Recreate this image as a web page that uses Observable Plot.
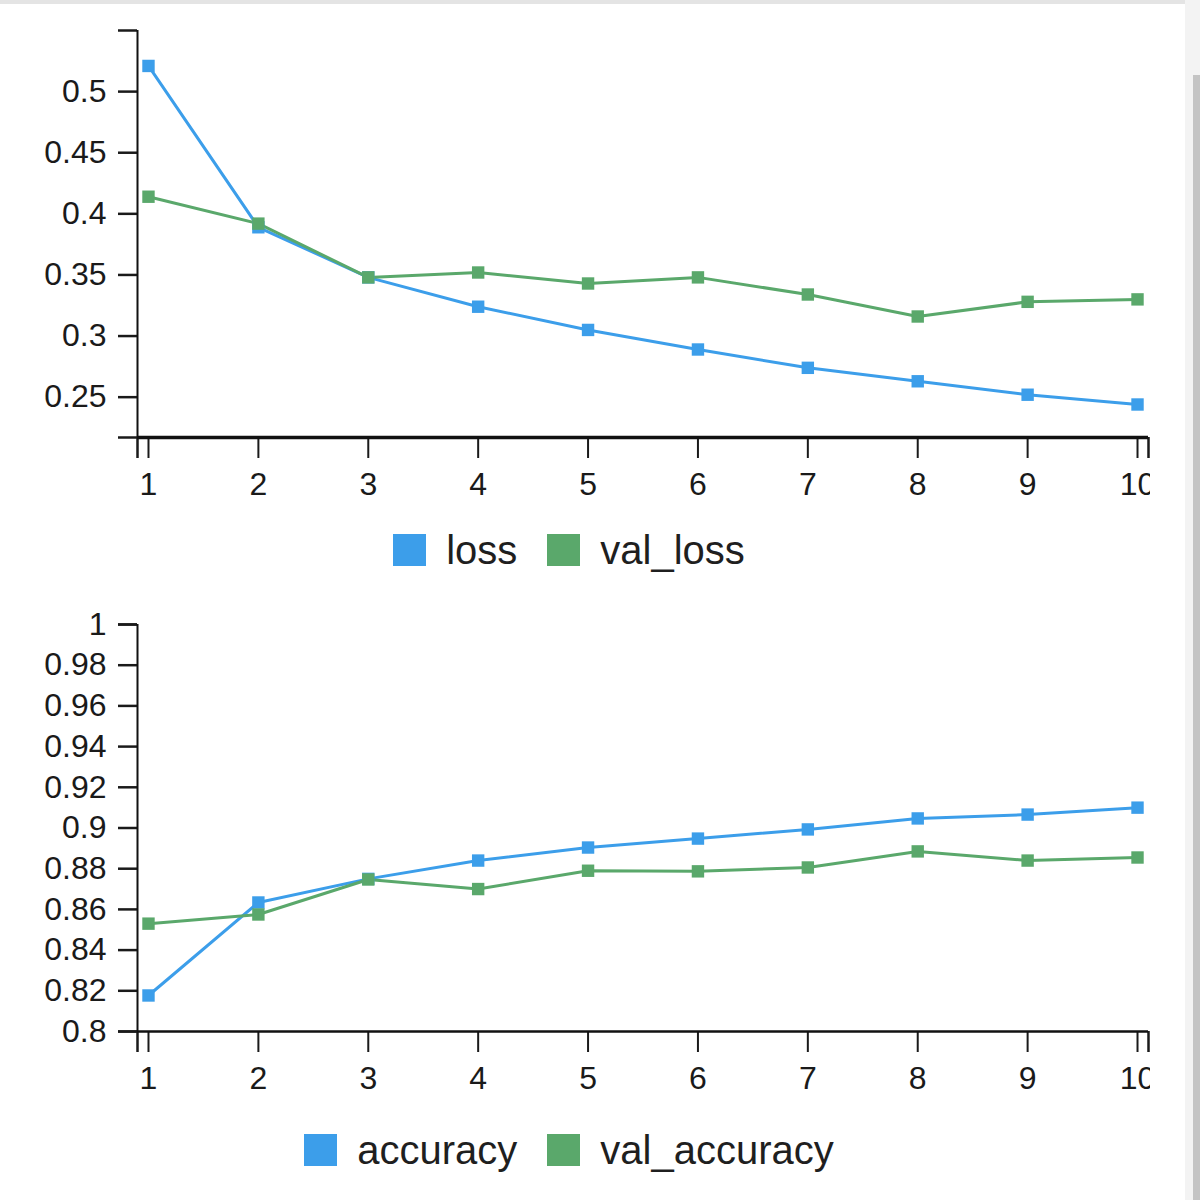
<!DOCTYPE html>
<html>
<head>
<meta charset="utf-8">
<script src="https://cdn.jsdelivr.net/npm/d3@7"></script>
<script src="https://cdn.jsdelivr.net/npm/@observablehq/plot@0.6"></script>
<style>
  html, body { margin: 0; padding: 0; background: #fff; }
  body { width: 1200px; height: 1200px; overflow: hidden; position: relative; font-family: "Liberation Sans", Arial, sans-serif; }
  #topline { position: absolute; left: 0; top: 0; width: 1200px; height: 4px; background: #e4e4e4; }
  #track { position: absolute; right: 0; top: 0; width: 15px; height: 1200px; background: #f3f3f3; }
  #thumb { position: absolute; right: 0; top: 75px; width: 7px; height: 1125px; background: #c4c4c4; }
  #chart { position: absolute; left: 0; top: 4px; }
  .legend { width: 1138px; display: flex; justify-content: center; align-items: center; font-size: 40px; color: #1f1f1f; }
  .legend .item { display: flex; align-items: center; margin: 0 15px; }
  .legend .sw { width: 33px; height: 32px; display: inline-block; margin-right: 20px; }
</style>
</head>
<body>
<div id="topline"></div>
<div id="track"><div id="thumb"></div></div>
<div id="chart"></div>
<script>
const epochs = [1, 2, 3, 4, 5, 6, 7, 8, 9, 10];
const loss = [0.521, 0.389, 0.348, 0.324, 0.305, 0.289, 0.274, 0.263, 0.252, 0.244];
const valLoss = [0.414, 0.392, 0.348, 0.352, 0.343, 0.348, 0.334, 0.316, 0.328, 0.330];
const accuracy = [0.8177, 0.8634, 0.875, 0.884, 0.8904, 0.8948, 0.8993, 0.9047, 0.9066, 0.910];
const valAccuracy = [0.853, 0.8575, 0.8747, 0.870, 0.879, 0.8787, 0.8806, 0.8885, 0.884, 0.8855];

const lossNames = ["loss", "val_loss"];
const accNames = ["accuracy", "val_accuracy"];
const seriesColors = ["#3c9eea", "#5aa86b"];

const lossTicks = [0.25, 0.3, 0.35, 0.4, 0.45, 0.5];
const accTicks = [0.8, 0.82, 0.84, 0.86, 0.88, 0.9, 0.92, 0.94, 0.96, 0.98, 1];

const xDomain = [0.9, 10.1];
const lossDomain = [0.217, 0.55];
const accDomain = [0.8, 1];

function table(names, a, b) {
  const rows = [];
  epochs.forEach((e, i) => rows.push({epoch: e, value: a[i], series: names[0]}));
  epochs.forEach((e, i) => rows.push({epoch: e, value: b[i], series: names[1]}));
  return rows;
}

function panel(names, a, b, yDomain, yTicks, opts) {
  const data = table(names, a, b);
  return Plot.plot({
    width: 1150,
    height: opts.height,
    marginLeft: 137,
    marginRight: 2,
    marginTop: opts.marginTop,
    marginBottom: 66,
    x: {domain: xDomain, axis: null},
    y: {domain: yDomain, axis: null},
    color: {domain: names, range: seriesColors},
    style: {fontFamily: "'Liberation Sans', Arial, sans-serif", fontSize: "32px", color: "#1a1a1a", overflow: "hidden", background: "transparent"},
    marks: [
      Plot.axisX(epochs, {label: null, tickSize: 21, tickPadding: 14, strokeWidth: 2, tickFormat: d => String(d), fontSize: 32}),
      Plot.axisX(xDomain, {label: null, tickSize: 21, strokeWidth: 2.5, tickFormat: () => ""}),
      Plot.axisY(yTicks, {label: null, tickSize: 19, tickPadding: 12, strokeWidth: 2.5, tickFormat: d => String(d), fontSize: 32}),
      Plot.axisY(yDomain, {label: null, tickSize: 19, strokeWidth: 2.5, tickFormat: () => ""}),
      Plot.ruleX([xDomain[0]], {strokeWidth: 2, stroke: "#111"}),
      Plot.ruleY([yDomain[0]], {strokeWidth: opts.xAxisWidth, stroke: "#111"}),
      Plot.line(data, {x: "epoch", y: "value", z: "series", stroke: "series", strokeWidth: 3}),
      Plot.dot(data, {x: "epoch", y: "value", fill: "series", symbol: "square", r: 7})
    ]
  });
}

function legend(names, height) {
  const div = document.createElement("div");
  div.className = "legend";
  div.style.height = height + "px";
  names.forEach((n, i) => {
    const item = document.createElement("span");
    item.className = "item";
    const sw = document.createElement("span");
    sw.className = "sw";
    sw.style.background = seriesColors[i];
    const t = document.createElement("span");
    t.textContent = n;
    item.appendChild(sw);
    item.appendChild(t);
    div.appendChild(item);
  });
  return div;
}

const chart = document.getElementById("chart");
chart.appendChild(panel(lossNames, loss, valLoss, lossDomain, lossTicks, {height: 499, marginTop: 26, xAxisWidth: 3.5}));
chart.appendChild(legend(lossNames, 94));
chart.appendChild(panel(accNames, accuracy, valAccuracy, accDomain, accTicks, {height: 500, marginTop: 27, xAxisWidth: 2.5}));
chart.appendChild(legend(accNames, 106));
</script>
</body>
</html>
